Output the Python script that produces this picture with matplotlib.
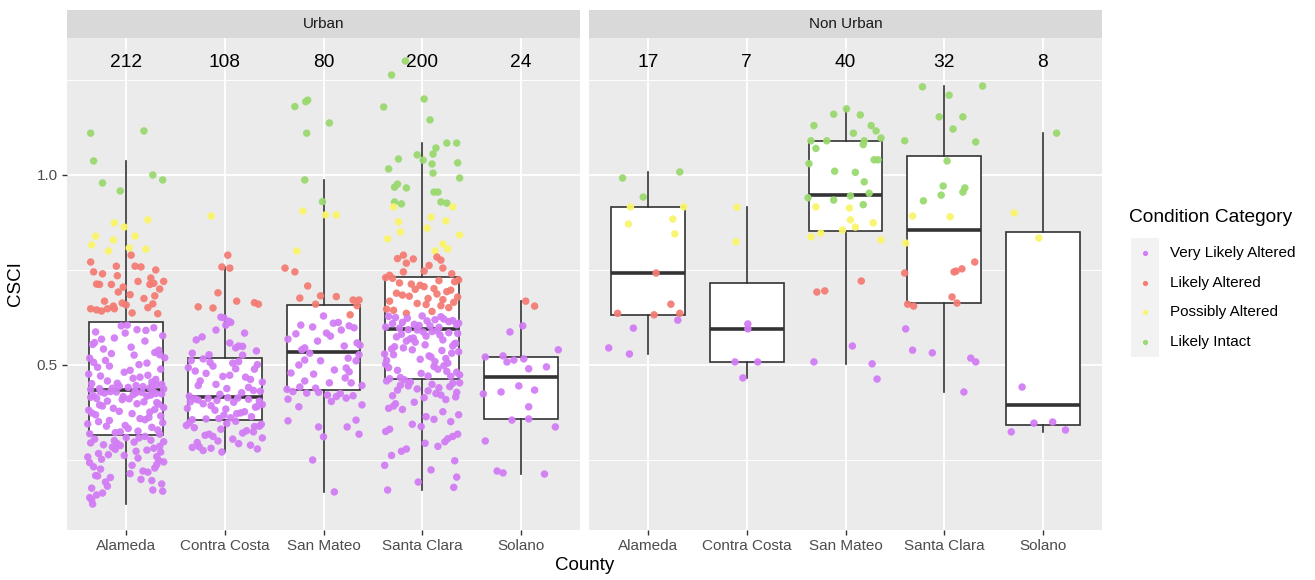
import matplotlib
matplotlib.use("Agg")
import matplotlib.pyplot as plt
from matplotlib.patches import Rectangle
import numpy as np

plt.rcParams["font.family"] = ["Liberation Sans", "DejaVu Sans"]

# --- categories / labels ---
panels = ["Urban", "Non Urban"]
counties = ["Alameda", "Contra Costa", "San Mateo", "Santa Clara", "Solano"]
categories = ["Very Likely Altered", "Likely Altered", "Possibly Altered", "Likely Intact"]
category_breaks = [0.63, 0.79, 0.92]   # CSCI condition thresholds
category_colors = ["#D27DF4", "#F37C74", "#F9F56C", "#9AD96F"]

# --- Urban: CSCI scores and horizontal jitter ---
urban_alameda_csci = [
    1.110, 1.116, 1.037, 1.000, 0.987, 0.979, 0.958,
    0.874, 0.882, 0.863, 0.839, 0.839, 0.829, 0.816, 0.808, 0.800, 0.805,
    0.789, 0.771, 0.760, 0.758, 0.760, 0.745, 0.740, 0.735, 0.729, 0.720,
    0.713, 0.712, 0.712, 0.705, 0.712, 0.715, 0.692, 0.682, 0.668, 0.663,
    0.642, 0.648, 0.648, 0.658, 0.661, 0.651, 0.637, 0.635, 0.648, 0.645,
    0.700, 0.675, 0.720, 0.655, 0.685, 0.750,
    0.512, 0.468, 0.587, 0.441, 0.539, 0.603, 0.476, 0.455, 0.526, 0.497,
    0.449, 0.571, 0.438, 0.505, 0.462, 0.554, 0.593, 0.443, 0.481, 0.519,
    0.436, 0.547, 0.471, 0.598, 0.452, 0.530, 0.489, 0.440, 0.563, 0.507,
    0.446, 0.577, 0.458, 0.533, 0.494, 0.439, 0.518, 0.605, 0.465, 0.542,
    0.448, 0.584, 0.473, 0.437, 0.501, 0.559, 0.444, 0.486, 0.527, 0.568,
    0.451, 0.442, 0.591,
    0.428, 0.351, 0.397, 0.322, 0.415, 0.372, 0.431, 0.339, 0.388, 0.409,
    0.326, 0.419, 0.362, 0.430, 0.345, 0.401, 0.378, 0.424, 0.333, 0.392,
    0.427, 0.356, 0.412, 0.319, 0.383, 0.429, 0.366, 0.405, 0.341, 0.421,
    0.374, 0.432, 0.329, 0.395, 0.418, 0.359, 0.426, 0.386, 0.348, 0.411,
    0.324, 0.403, 0.369, 0.425, 0.336, 0.381, 0.422, 0.354, 0.398, 0.318,
    0.417, 0.376, 0.429,
    0.305, 0.281, 0.264, 0.297, 0.243, 0.312, 0.226, 0.288, 0.271, 0.209,
    0.302, 0.255, 0.192, 0.284, 0.238, 0.176, 0.298, 0.267, 0.221, 0.309,
    0.163, 0.249, 0.293, 0.204, 0.276, 0.187, 0.232, 0.308, 0.258, 0.171,
    0.214, 0.290, 0.245, 0.158, 0.273, 0.199, 0.301, 0.229, 0.262, 0.181,
    0.145, 0.286, 0.218, 0.252, 0.168, 0.295, 0.236, 0.196, 0.278, 0.134,
    0.208, 0.259, 0.151,
]
urban_alameda_jitter = [
    -0.36, 0.18, -0.33, 0.27, 0.37, -0.24, -0.06,
    -0.12, 0.22, -0.02, -0.31, 0.09, -0.13, -0.35, 0.03, -0.18, 0.20,
    0.05, -0.36, 0.09, 0.15, -0.10, -0.33, -0.24, -0.09, 0.25, 0.12,
    -0.30, -0.27, -0.15, -0.03, 0.24, 0.28, -0.08, 0.29, -0.22, -0.04,
    -0.25, -0.19, -0.12, 0.00, 0.27, 0.22, 0.06, 0.32, -0.36, -0.30,
    0.34, 0.18, 0.38, -0.13, 0.04, 0.30,
    -0.21, 0.14, -0.31, 0.02, 0.33, -0.05, -0.38, 0.26, 0.08, -0.17,
    0.36, -0.12, -0.27, 0.21, 0.30, -0.34, 0.11, 0.17, -0.02, 0.39,
    -0.36, 0.05, -0.26, 0.28, -0.09, -0.15, 0.35, 0.24, 0.19, -0.33,
    0.10, 0.37, -0.19, 0.29, -0.29, -0.14, -0.37, 0.01, 0.07, -0.23,
    0.31, -0.01, 0.22, 0.38, 0.13, -0.32, -0.07, 0.04, 0.34, -0.25,
    -0.35, 0.26, 0.20,
    0.16, -0.28, 0.33, -0.11, -0.36, 0.06, 0.27, -0.20, 0.38, -0.04,
    0.12, -0.33, 0.23, -0.16, -0.39, 0.31, -0.07, 0.36, 0.02, -0.24,
    0.10, 0.19, -0.30, -0.37, 0.29, -0.10, 0.35, -0.19, -0.01, 0.25,
    -0.35, 0.09, 0.32, -0.27, 0.21, 0.14, -0.22, -0.13, 0.37, 0.03,
    -0.06, 0.18, -0.31, 0.30, 0.26, -0.38, 0.07, -0.17, 0.11, 0.34,
    -0.03, 0.24, -0.26,
    -0.32, 0.28, -0.18, 0.08, -0.37, 0.19, -0.26, -0.06, 0.35, -0.31,
    0.25, 0.12, -0.21, -0.14, 0.31, -0.35, 0.38, -0.28, 0.17, 0.00,
    -0.24, 0.33, -0.09, -0.16, 0.21, 0.36, -0.33, 0.13, -0.39, 0.27,
    0.04, -0.23, 0.38, -0.30, 0.10, 0.15, -0.12, 0.29, -0.02, -0.19,
    -0.35, 0.34, 0.22, -0.25, 0.37, -0.36, 0.06, 0.26, -0.11, -0.34,
    -0.29, 0.31, -0.37,
]

urban_contra_costa_csci = [
    0.892,
    0.789, 0.758, 0.755, 0.690, 0.668, 0.664, 0.660, 0.653, 0.650,
    0.626, 0.624, 0.615, 0.605, 0.612, 0.566, 0.574, 0.584, 0.558, 0.550,
    0.549, 0.545, 0.526, 0.527, 0.592, 0.537, 0.531,
    0.512, 0.468, 0.497, 0.431, 0.505, 0.446, 0.489, 0.423, 0.478, 0.509,
    0.455, 0.493, 0.438, 0.516, 0.462, 0.484, 0.427, 0.501, 0.449, 0.473,
    0.418, 0.507, 0.441, 0.490, 0.458, 0.433, 0.470,
    0.411, 0.372, 0.398, 0.359, 0.405, 0.386, 0.414, 0.364, 0.393, 0.408,
    0.377, 0.402, 0.356, 0.389, 0.412, 0.368, 0.396, 0.381, 0.410, 0.361,
    0.403, 0.374, 0.407, 0.358, 0.391, 0.384, 0.413,
    0.348, 0.321, 0.296, 0.338, 0.283, 0.312, 0.344, 0.275, 0.305, 0.331,
    0.289, 0.352, 0.318, 0.279, 0.341, 0.300, 0.327, 0.285, 0.346, 0.308,
    0.271, 0.335, 0.293, 0.324, 0.315, 0.281, 0.339,
]
urban_contra_costa_jitter = [
    -0.14,
    0.03, -0.03, 0.05, -0.07, 0.12, 0.30, 0.34, -0.27, -0.12,
    -0.04, -0.01, 0.04, 0.01, 0.06, -0.29, -0.23, 0.20, 0.05, 0.14,
    0.18, 0.11, 0.18, -0.16, -0.09, 0.32, -0.33,
    -0.34, 0.21, -0.12, 0.36, 0.08, -0.27, 0.30, -0.05, -0.19, 0.14,
    0.38, -0.37, 0.02, -0.22, 0.26, -0.30, 0.17, 0.33, -0.09, 0.05,
    -0.36, -0.15, 0.24, 0.11, -0.25, 0.29, -0.02,
    -0.30, 0.12, -0.22, -0.06, 0.35, -0.38, 0.03, 0.27, -0.14, -0.27,
    0.20, 0.09, -0.33, 0.31, -0.17, -0.01, 0.38, -0.10, 0.24, 0.06,
    -0.35, 0.16, -0.08, -0.19, 0.33, 0.01, 0.13,
    -0.36, 0.18, -0.28, 0.30, -0.33, -0.12, 0.37, -0.22, 0.08, -0.04,
    0.26, 0.11, -0.16, 0.33, -0.39, -0.07, 0.22, -0.26, 0.02, 0.38,
    -0.03, -0.31, 0.14, 0.29, -0.20, -0.14, 0.35,
]

urban_san_mateo_csci = [
    1.180, 1.193, 1.197, 1.137, 1.110, 0.987, 0.930,
    0.905, 0.895, 0.895, 0.800,
    0.755, 0.745, 0.708, 0.676, 0.682, 0.680, 0.671, 0.671, 0.660, 0.656, 0.632,
    0.629, 0.610, 0.612, 0.605, 0.600, 0.603, 0.598, 0.582, 0.584, 0.576,
    0.550, 0.558, 0.545, 0.540, 0.552, 0.568, 0.592, 0.563,
    0.518, 0.511, 0.500, 0.513, 0.511, 0.479, 0.476, 0.492, 0.482, 0.458,
    0.453, 0.466, 0.453, 0.442, 0.439, 0.527, 0.531, 0.487, 0.446, 0.436,
    0.428, 0.421, 0.417, 0.425, 0.413, 0.419, 0.430, 0.410, 0.390, 0.353,
    0.337, 0.337, 0.355, 0.318, 0.311, 0.250, 0.166, 0.404, 0.426, 0.395,
]
urban_san_mateo_jitter = [
    -0.29, -0.18, -0.16, 0.06, -0.17, -0.19, -0.01,
    -0.21, 0.02, 0.13, -0.27,
    -0.39, -0.29, -0.16, -0.24, -0.03, 0.13, 0.30, 0.36, -0.08, 0.34, 0.27,
    0.00, 0.10, 0.15, -0.23, -0.11, 0.26, 0.31, -0.28, 0.03, 0.07,
    0.21, 0.34, -0.19, -0.22, 0.37, -0.36, 0.18, -0.06,
    0.25, 0.33, -0.25, -0.19, -0.03, -0.33, -0.10, 0.23, 0.26, -0.19,
    0.06, 0.22, 0.28, -0.24, -0.08, 0.36, -0.14, 0.11, 0.39, -0.37,
    -0.05, 0.04, 0.13, 0.17, 0.23, 0.30, -0.31, -0.36, -0.25, -0.36,
    -0.05, 0.24, 0.33, 0.36, 0.00, -0.11, 0.11, 0.08, -0.17, 0.39,
]

urban_santa_clara_csci = [
    1.300, 1.263, 1.179, 1.200, 1.145, 1.084, 1.084, 1.071, 1.053, 1.039,
    1.055, 1.042, 1.016, 1.029, 1.032, 1.005, 0.992, 0.976, 0.966, 0.968,
    0.955, 0.955, 0.929, 0.924, 0.929, 0.926,
    0.916, 0.916, 0.877, 0.889, 0.879, 0.850, 0.860, 0.842, 0.832, 0.818,
    0.800, 0.805,
    0.780, 0.789, 0.779, 0.768, 0.784, 0.776, 0.745, 0.747, 0.755, 0.762,
    0.740, 0.736,
    0.728, 0.701, 0.684, 0.719, 0.662, 0.693, 0.647, 0.713, 0.675, 0.656,
    0.724, 0.689, 0.641, 0.706, 0.668, 0.697, 0.636, 0.679, 0.710, 0.651,
    0.730, 0.687, 0.659, 0.716, 0.672, 0.644, 0.699, 0.665, 0.722, 0.681,
    0.628, 0.612, 0.603, 0.621, 0.607, 0.617, 0.599, 0.625, 0.610, 0.604,
    0.619, 0.629, 0.600, 0.614, 0.623, 0.606, 0.597, 0.616, 0.627, 0.609,
    0.588, 0.542, 0.517, 0.569, 0.481, 0.553, 0.502, 0.579, 0.467, 0.531,
    0.592, 0.509, 0.548, 0.474, 0.563, 0.524, 0.585, 0.493, 0.538, 0.571,
    0.486, 0.556, 0.515, 0.590, 0.470, 0.529, 0.576, 0.498, 0.545, 0.583,
    0.464, 0.521, 0.560, 0.505, 0.574, 0.489, 0.535, 0.593, 0.478, 0.550,
    0.512, 0.566, 0.496, 0.581, 0.527, 0.471, 0.557, 0.540, 0.483, 0.587,
    0.458, 0.447, 0.432, 0.452, 0.419, 0.440, 0.455, 0.409, 0.437, 0.428,
    0.449, 0.398, 0.461, 0.414, 0.443, 0.386, 0.425, 0.453, 0.402, 0.434,
    0.377, 0.416, 0.445, 0.364, 0.392, 0.421, 0.351, 0.383, 0.338, 0.369,
    0.325, 0.357, 0.312, 0.344, 0.298, 0.331, 0.286, 0.306, 0.273, 0.318,
    0.262, 0.294, 0.248, 0.279, 0.236, 0.224, 0.205, 0.192, 0.178, 0.171,
]
urban_santa_clara_jitter = [
    -0.17, -0.31, -0.39, 0.02, 0.08, 0.25, 0.35, 0.14, -0.05, 0.01,
    0.11, -0.24, -0.34, 0.10, 0.36, 0.11, 0.38, -0.25, -0.16, -0.28,
    0.12, 0.16, -0.28, -0.21, 0.19, 0.25,
    -0.29, 0.31, -0.24, 0.09, 0.24, -0.22, 0.05, 0.38, -0.35, 0.21,
    0.13, 0.26,
    -0.25, -0.19, -0.09, -0.16, 0.15, 0.19, -0.19, 0.02, 0.21, 0.07,
    0.30, -0.33,
    -0.30, 0.12, -0.20, 0.33, -0.05, 0.25, -0.36, -0.11, 0.06, 0.19,
    0.37, -0.26, 0.10, 0.02, -0.33, 0.29, -0.16, 0.36, -0.02, 0.27,
    -0.37, 0.15, 0.04, -0.23, 0.21, -0.29, -0.07, 0.32, 0.17, -0.13,
    -0.34, -0.20, 0.08, 0.22, -0.08, 0.31, 0.17, -0.27, 0.37, -0.03,
    0.13, 0.00, -0.37, 0.27, -0.15, 0.35, -0.23, 0.05, 0.19, -0.30,
    0.10, -0.31, 0.24, -0.12, 0.35, 0.03, -0.37, 0.18, -0.22, 0.30,
    -0.05, 0.13, -0.28, 0.38, -0.16, 0.07, 0.27, -0.34, 0.20, -0.09,
    -0.25, 0.33, -0.02, 0.15, 0.29, -0.38, 0.04, 0.22, -0.19, 0.36,
    -0.33, 0.09, -0.07, 0.26, -0.26, 0.16, 0.37, -0.14, -0.01, 0.31,
    -0.36, 0.21, 0.12, -0.21, -0.29, 0.06, 0.34, -0.10, 0.25, 0.01,
    -0.36, -0.22, 0.06, 0.31, -0.30, 0.17, -0.12, 0.24, -0.05, 0.35,
    0.10, -0.27, -0.18, 0.02, 0.28, -0.34, 0.14, 0.38, -0.08, -0.25,
    0.21, 0.34, -0.14, 0.04, -0.29, 0.19, 0.29, -0.20, -0.01, 0.37,
    -0.37, 0.12, 0.31, -0.10, 0.23, -0.33, 0.16, 0.26, -0.21, 0.36,
    -0.31, 0.03, 0.33, -0.16, -0.38, 0.09, 0.35, -0.04, 0.32, -0.35,
]

urban_solano_csci = [
    0.668, 0.655, 0.603, 0.587, 0.540, 0.521, 0.524, 0.513, 0.508, 0.516,
    0.490, 0.495, 0.445, 0.434, 0.429, 0.424, 0.390, 0.355, 0.358, 0.337,
    0.300, 0.221, 0.216, 0.213,
]
urban_solano_jitter = [
    0.05, 0.14, 0.02, -0.11, 0.38, -0.36, -0.18, -0.07, -0.14, 0.03,
    0.08, 0.26, -0.02, 0.14, -0.20, -0.38, 0.08, -0.09, 0.08, 0.35,
    -0.36, -0.24, -0.18, 0.24,
]

# --- Non Urban ---
nonurban_alameda_csci = [
    0.992, 1.008, 0.942, 0.916, 0.916, 0.871, 0.884, 0.845,
    0.742, 0.660, 0.636, 0.632, 0.636, 0.618, 0.597, 0.545, 0.529,
]
nonurban_alameda_jitter = [
    -0.26, 0.32, -0.05, -0.18, 0.36, -0.20, 0.25, 0.27,
    0.08, 0.23, -0.31, 0.06, 0.32, 0.30, -0.15, -0.40, -0.19,
]

nonurban_contra_costa_csci = [0.915, 0.824, 0.608, 0.595, 0.508, 0.508, 0.466]
nonurban_contra_costa_jitter = [-0.10, -0.11, 0.01, 0.01, -0.12, 0.11, -0.04]

nonurban_san_mateo_csci = [
    1.160, 1.174, 1.158, 1.130, 1.110, 1.130, 1.116, 1.090, 1.090, 1.090,
    1.080, 1.070, 1.040, 1.030, 1.010, 1.007, 0.982, 0.940, 0.934, 0.945,
    0.952, 0.922, 1.097, 1.040,
    0.916, 0.913, 0.882, 0.863, 0.874, 0.837, 0.847, 0.855, 0.829,
    0.721, 0.692, 0.695,
    0.550, 0.508, 0.503, 0.463,
]
nonurban_san_mateo_jitter = [
    -0.12, 0.01, 0.15, -0.32, 0.08, 0.26, 0.31, -0.35, -0.19, 0.19,
    0.18, -0.30, 0.29, -0.37, -0.11, 0.10, 0.19, -0.38, -0.12, 0.05,
    0.24, 0.18, 0.36, 0.33,
    -0.30, 0.04, 0.05, 0.10, 0.28, -0.35, -0.25, -0.03, 0.36,
    0.16, -0.29, -0.21,
    0.07, -0.32, 0.27, 0.32,
]

nonurban_santa_clara_csci = [
    1.232, 1.210, 1.234, 1.153, 1.153, 1.121, 1.090, 1.087, 1.037, 0.971,
    0.966, 0.955, 0.947, 0.932,
    0.892, 0.890, 0.821,
    0.771, 0.753, 0.747, 0.745, 0.742, 0.679, 0.663, 0.660, 0.655,
    0.595, 0.539, 0.532, 0.518, 0.508, 0.429,
]
nonurban_santa_clara_jitter = [
    -0.22, 0.05, 0.39, -0.05, 0.19, 0.09, -0.40, 0.32, 0.03, -0.01,
    0.21, 0.19, -0.03, -0.21,
    -0.32, 0.06, -0.39,
    0.31, 0.18, 0.12, 0.10, -0.40, 0.08, 0.13, -0.37, -0.31,
    -0.39, -0.32, -0.12, 0.27, 0.32, 0.20,
]

nonurban_solano_csci = [1.110, 0.900, 0.834, 0.442, 0.347, 0.350, 0.324, 0.329]
nonurban_solano_jitter = [0.14, -0.29, -0.04, -0.21, -0.09, 0.10, -0.32, 0.23]

panel_csci = {
    "Urban": [urban_alameda_csci, urban_contra_costa_csci, urban_san_mateo_csci,
              urban_santa_clara_csci, urban_solano_csci],
    "Non Urban": [nonurban_alameda_csci, nonurban_contra_costa_csci, nonurban_san_mateo_csci,
                  nonurban_santa_clara_csci, nonurban_solano_csci],
}
panel_jitter = {
    "Urban": [urban_alameda_jitter, urban_contra_costa_jitter, urban_san_mateo_jitter,
              urban_santa_clara_jitter, urban_solano_jitter],
    "Non Urban": [nonurban_alameda_jitter, nonurban_contra_costa_jitter, nonurban_san_mateo_jitter,
                  nonurban_santa_clara_jitter, nonurban_solano_jitter],
}

# --- styling (ggplot theme_grey look) ---
PANEL_BG = "#EBEBEB"
STRIP_BG = "#D9D9D9"
TICK_TEXT = "#4D4D4D"
BOX_LINE = "#333333"

W, H = 1315, 580
fig = plt.figure(figsize=(W / 100, H / 100), dpi=100)
fig.patch.set_facecolor("white")


def px_box(left, top, right, bottom):
    return [left / W, 1 - bottom / H, (right - left) / W, (bottom - top) / H]


panel_x = {"Urban": (67, 580), "Non Urban": (589, 1102)}
PANEL_TOP, PANEL_BOTTOM, STRIP_TOP = 38, 530, 10
positions = np.arange(len(counties))

for p_i, panel in enumerate(panels):
    left, right = panel_x[panel]
    ax = fig.add_axes(px_box(left, PANEL_TOP, right, PANEL_BOTTOM))
    ax.set_facecolor(PANEL_BG)
    ax.set_xlim(-0.6, len(counties) - 0.4)
    ax.set_ylim(0.0658, 1.3605)

    data = [np.asarray(v, dtype=float) for v in panel_csci[panel]]
    ax.boxplot(
        data, positions=positions, widths=0.75, whis=1.5, showfliers=False,
        showcaps=False, patch_artist=True,
        boxprops=dict(facecolor="white", edgecolor=BOX_LINE, linewidth=1.2),
        whiskerprops=dict(color=BOX_LINE, linewidth=1.2),
        medianprops=dict(color=BOX_LINE, linewidth=2.6, solid_capstyle="butt"),
        zorder=2,
    )

    for pos, vals, jit in zip(positions, data, panel_jitter[panel]):
        cat_idx = np.digitize(vals, category_breaks)
        colors = [category_colors[c] for c in cat_idx]
        ax.scatter(pos + np.asarray(jit), vals, s=29, c=colors, linewidths=0,
                   alpha=0.95, zorder=3)
        ax.text(pos, 1.297, str(len(vals)), ha="center", va="center",
                fontsize=13.8, color="black", zorder=4)

    ax.set_xticks(positions)
    ax.set_xticklabels(counties)
    ax.set_yticks([0.5, 1.0])
    ax.set_yticklabels(["0.5", "1.0"])
    ax.set_yticks([0.25, 0.75, 1.25], minor=True)
    ax.grid(which="major", color="white", linewidth=1.3)
    ax.grid(which="minor", axis="y", color="white", linewidth=0.65)
    ax.set_axisbelow(True)
    for spine in ax.spines.values():
        spine.set_visible(False)
    ax.tick_params(axis="x", length=3.5, width=1, color=BOX_LINE,
                   labelcolor=TICK_TEXT, labelsize=11, pad=3)
    ax.tick_params(axis="y", which="minor", length=0)
    if p_i == 0:
        ax.tick_params(axis="y", length=3.5, width=1, color=BOX_LINE,
                       labelcolor=TICK_TEXT, labelsize=11, pad=3)
    else:
        ax.tick_params(axis="y", length=0, labelleft=False)

    strip = fig.add_axes(px_box(left, STRIP_TOP, right, PANEL_TOP))
    strip.set_facecolor(STRIP_BG)
    strip.set_xticks([])
    strip.set_yticks([])
    for spine in strip.spines.values():
        spine.set_visible(False)
    strip.text(0.5, 0.5, panel, ha="center", va="center", fontsize=11,
               color="#1A1A1A", transform=strip.transAxes)

# overlay in pixel coordinates for axis titles and the legend
over = fig.add_axes([0, 0, 1, 1], facecolor="none")
over.set_xlim(0, W)
over.set_ylim(H, 0)
over.axis("off")

over.text((67 + 1102) / 2, 565, "County", ha="center", va="center",
          fontsize=13.5, color="black")
over.text(16, 284, "CSCI", ha="center", va="center", rotation=90,
          fontsize=13.5, color="black")

over.text(1129, 218, "Condition Category", ha="left", va="center",
          fontsize=13.8, color="black")
key_top, key_h = 238, 29.7
for i, (label, color) in enumerate(zip(categories, category_colors)):
    yc = key_top + key_h * (i + 0.5)
    over.add_patch(Rectangle((1131, yc - key_h / 2), 28, key_h,
                             facecolor="#F2F2F2", edgecolor="none"))
    over.scatter([1145], [yc], s=14, c=color, linewidths=0)
    over.text(1170, yc, label, ha="left", va="center", fontsize=11,
              color="black")

fig.savefig("out.png", dpi=100, facecolor=fig.get_facecolor())
